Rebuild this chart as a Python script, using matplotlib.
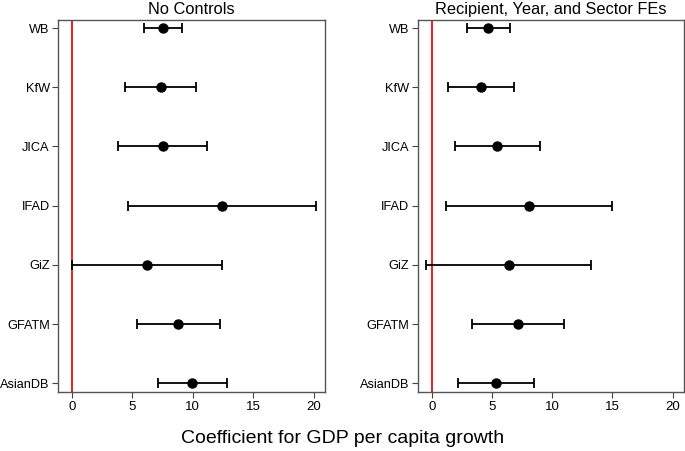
import numpy as np
import matplotlib.pyplot as plt

plt.rcParams['font.family'] = ['Liberation Sans', 'DejaVu Sans']

# donors, top to bottom
donors = ['WB', 'KfW', 'JICA', 'IFAD', 'GiZ', 'GFATM', 'AsianDB']

# No Controls
coef1 = [7.54, 7.34, 7.51, 12.45, 6.21, 8.80, 9.97]
lo1 = [5.96, 4.42, 3.84, 4.66, 0.00, 5.41, 7.10]
hi1 = [9.11, 10.30, 11.21, 20.24, 12.45, 12.23, 12.80]

# Recipient, Year, and Sector FEs
coef2 = [4.70, 4.12, 5.45, 8.05, 6.39, 7.14, 5.31]
lo2 = [2.93, 1.35, 1.93, 1.19, -0.45, 3.34, 2.21]
hi2 = [6.47, 6.83, 9.01, 14.94, 13.25, 10.95, 8.47]

titles = ['No Controls', 'Recipient, Year, and Sector FEs']
xticks = [0, 5, 10, 15, 20]

fig = plt.figure(figsize=(6.85, 4.51), dpi=100)
ax1 = fig.add_axes([0.0847, 0.1315, 0.3898, 0.8248])
ax2 = fig.add_axes([0.6098, 0.1315, 0.3887, 0.8248])

ypos = np.arange(len(donors))[::-1]

for ax, c, lo, hi, t in [(ax1, coef1, lo1, hi1, titles[0]),
                         (ax2, coef2, lo2, hi2, titles[1])]:
    c = np.array(c)
    err = [c - np.array(lo), np.array(hi) - c]
    ax.axvline(0, color='#ee1c1c', lw=1.4, zorder=1)
    ax.errorbar(c, ypos, xerr=err, fmt='o', color='black', ms=6.5,
                elinewidth=1.3, capsize=3.5, capthick=1.3, zorder=3)
    ax.set_xlim(-1.17, 20.95)
    ax.set_ylim(-0.14, 6.14)
    ax.set_yticks(ypos)
    ax.set_yticklabels(donors, fontsize=9.2)
    ax.set_xticks(xticks)
    ax.tick_params(axis='x', labelsize=9.5, length=4, color='#444444', pad=2.5)
    ax.tick_params(axis='y', length=4, color='#444444', pad=2)
    for s in ax.spines.values():
        s.set_color('#555555')
        s.set_linewidth(1.0)
    ax.set_title(t, fontsize=11.8, pad=4)

fig.text(0.5, 0.008, 'Coefficient for GDP per capita growth', ha='center',
         va='bottom', fontsize=14)

fig.savefig('out.png', dpi=100)
